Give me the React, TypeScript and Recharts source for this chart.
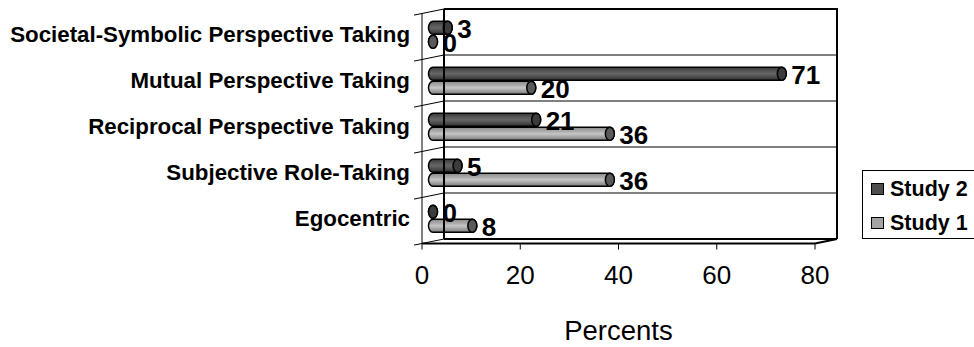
import React from 'react';
import { BarChart, Bar, XAxis, YAxis, ReferenceArea, ReferenceLine, LabelList, Label } from 'recharts';

const categories = [
  'Societal-Symbolic Perspective Taking',
  'Mutual Perspective Taking',
  'Reciprocal Perspective Taking',
  'Subjective Role-Taking',
  'Egocentric',
];
const study2 = [3, 71, 21, 5, 0];
const study1 = [0, 20, 36, 36, 8];
const xTicks = [0, 20, 40, 60, 80];
const seriesNames = ['Study 2', 'Study 1'];

const data = categories.map((name, i) => ({ name, study2: study2[i], study1: study1[i] }));

const FONT = '"Liberation Sans", Arial, Helvetica, sans-serif';
// fake 3d depth: front plane is shifted left/down from the back wall
const DEPTH_X = 22;
const DEPTH_Y = 4.5;
const CAP_RX = 4.5;

const tones: Record<string, { cap: string; swatch: string }> = {
  dark: { cap: '#3c3c3c', swatch: '#4d4d4d' },
  light: { cap: '#5a5a5a', swatch: '#a3a3a3' },
};

function Frame(props: any) {
  const { x, y, width, height } = props;
  const r = x + width;
  const b = y + height;
  const fx = x - DEPTH_X;
  const band = height / categories.length;
  const bounds = Array.from({ length: categories.length + 1 }, (_, i) => y + i * band);
  return (
    <g>
      <rect x={x} y={y} width={width} height={height} fill="#fff" />
      {bounds.slice(1, -1).map((gy, i) => (
        <line key={'g' + i} x1={x} x2={r} y1={gy} y2={gy} stroke="#000" strokeWidth={1} />
      ))}
      {bounds.map((gy, i) => (
        <line key={'d' + i} x1={fx - 8} y1={gy + DEPTH_Y + 1.6} x2={x} y2={gy} stroke="#000" strokeWidth={1} />
      ))}
      <line x1={fx} y1={y + DEPTH_Y} x2={fx} y2={b + DEPTH_Y} stroke="#000" strokeWidth={1} />
      <line x1={x} y1={y} x2={r + 1} y2={y} stroke="#000" strokeWidth={2} />
      <line x1={r} y1={y} x2={r} y2={b} stroke="#000" strokeWidth={2} />
      <line x1={x} y1={b} x2={r} y2={b} stroke="#000" strokeWidth={2} />
      <line x1={fx} y1={b + DEPTH_Y} x2={r - DEPTH_X} y2={b + DEPTH_Y} stroke="#000" strokeWidth={2} />
      <line x1={r - DEPTH_X} y1={b + DEPTH_Y} x2={r} y2={b} stroke="#000" strokeWidth={2} />
    </g>
  );
}

function Cylinder(props: any) {
  const { x, y, width, height, tone } = props;
  const x0 = x - DEPTH_X / 2;
  const top = y + DEPTH_Y / 2;
  const x1 = x0 + Math.max(width || 0, 0);
  const ry = height / 2;
  const d = `M${x0},${top} L${x1},${top} A${CAP_RX},${ry} 0 0 1 ${x1},${top + height} L${x0},${top + height} A${CAP_RX},${ry} 0 0 1 ${x0},${top} Z`;
  return (
    <g>
      <path d={d} fill={`url(#body-${tone})`} stroke="#000" strokeWidth={1.5} />
      <ellipse cx={x1} cy={top + ry} rx={CAP_RX} ry={ry} fill={tones[tone].cap} stroke="#000" strokeWidth={1.5} />
    </g>
  );
}

const renderValue = (p: any) => {
  const vb = p.viewBox || {};
  const x = p.x ?? vb.x;
  const y = p.y ?? vb.y;
  const width = p.width ?? vb.width ?? 0;
  const height = p.height ?? vb.height ?? 0;
  return (
    <text
      x={x + width - DEPTH_X / 2 + CAP_RX + 5}
      y={y + height / 2 + DEPTH_Y / 2 + 1}
      dominantBaseline="central"
      fontFamily={FONT}
      fontWeight="bold"
      fontSize={26}
      fill="#000"
    >
      {p.value}
    </text>
  );
};

function CategoryTick({ y, payload }: any) {
  return (
    <text x={410} y={y + DEPTH_Y / 2} textAnchor="end" dominantBaseline="central" fontFamily={FONT} fontWeight="bold" fontSize={22.3} fill="#000">
      {payload.value}
    </text>
  );
}

function FrontTick({ x, y, payload }: any) {
  const fx = x - DEPTH_X;
  return (
    <g>
      <line x1={fx} x2={fx} y1={y + DEPTH_Y} y2={y + DEPTH_Y + 6} stroke="#000" strokeWidth={1} />
      <text x={fx} y={y + 36} textAnchor="middle" dominantBaseline="central" fontFamily={FONT} fontSize={26} fill="#000">
        {payload.value}
      </text>
    </g>
  );
}

const AxisTitle = ({ viewBox }: any) => (
  <text x={viewBox.x + viewBox.width / 2 - DEPTH_X} y={viewBox.y + 91} textAnchor="middle" dominantBaseline="central" fontFamily={FONT} fontSize={27.5} fill="#000">
    Percents
  </text>
);

function LegendBox() {
  const items = [
    { name: seriesNames[0], color: tones.dark.swatch },
    { name: seriesNames[1], color: tones.light.swatch },
  ];
  return (
    <div style={{ position: 'absolute', left: 862, top: 170, width: 112, height: 69, borderLeft: '1px solid #000', borderTop: '1px solid #000', borderBottom: '1px solid #000', boxSizing: 'border-box', fontFamily: FONT }}>
      {items.map((it, i) => (
        <div key={it.name} style={{ position: 'absolute', left: 8, top: 6 + i * 34, height: 24, display: 'flex', alignItems: 'center' }}>
          <span style={{ width: 11, height: 10, background: it.color, border: '1.5px solid #000', display: 'inline-block' }} />
          <span style={{ marginLeft: 6, fontSize: 21.5, fontWeight: 'bold', color: '#000', whiteSpace: 'nowrap' }}>{it.name}</span>
        </div>
      ))}
    </div>
  );
}

export default function App() {
  return (
    <div style={{ position: 'absolute', left: 0, top: 0, width: 974, height: 347, overflow: 'hidden', background: '#fff' }}>
      <BarChart width={974} height={347} data={data} layout="vertical" barSize={13} barGap={1} margin={{ top: 9, right: 137, bottom: 78, left: 24 }}>
        <defs>
          <linearGradient id="body-dark" x1="0" y1="0" x2="0" y2="1">
            <stop offset="0" stopColor="#383838" />
            <stop offset="0.3" stopColor="#575757" />
            <stop offset="0.5" stopColor="#666666" />
            <stop offset="0.75" stopColor="#4c4c4c" />
            <stop offset="1" stopColor="#2c2c2c" />
          </linearGradient>
          <linearGradient id="body-light" x1="0" y1="0" x2="0" y2="1">
            <stop offset="0" stopColor="#8a8a8a" />
            <stop offset="0.35" stopColor="#b0b0b0" />
            <stop offset="0.5" stopColor="#c6c6c6" />
            <stop offset="0.75" stopColor="#a0a0a0" />
            <stop offset="1" stopColor="#7a7a7a" />
          </linearGradient>
        </defs>
        <ReferenceArea x1={0} x2={80} ifOverflow="visible" shape={Frame} />
        <XAxis type="number" domain={[0, 80]} ticks={xTicks} interval={0} height={30} axisLine={false} tickLine={false} tickSize={0} tickMargin={0} tick={<FrontTick />}>
          <Label content={AxisTitle} />
        </XAxis>
        <YAxis type="category" dataKey="name" width={420} axisLine={false} tickLine={false} tickSize={0} tick={<CategoryTick />} interval={0} />
        <Bar dataKey="study2" name={seriesNames[0]} isAnimationActive={false} shape={(p: any) => <Cylinder {...p} tone="dark" />}>
          <LabelList dataKey="study2" content={renderValue} />
        </Bar>
        <Bar dataKey="study1" name={seriesNames[1]} isAnimationActive={false} shape={(p: any) => <Cylinder {...p} tone="light" />}>
          <LabelList dataKey="study1" content={renderValue} />
        </Bar>
        <ReferenceLine x={0} stroke="#000" strokeWidth={2} ifOverflow="visible" />
      </BarChart>
      <LegendBox />
    </div>
  );
}
